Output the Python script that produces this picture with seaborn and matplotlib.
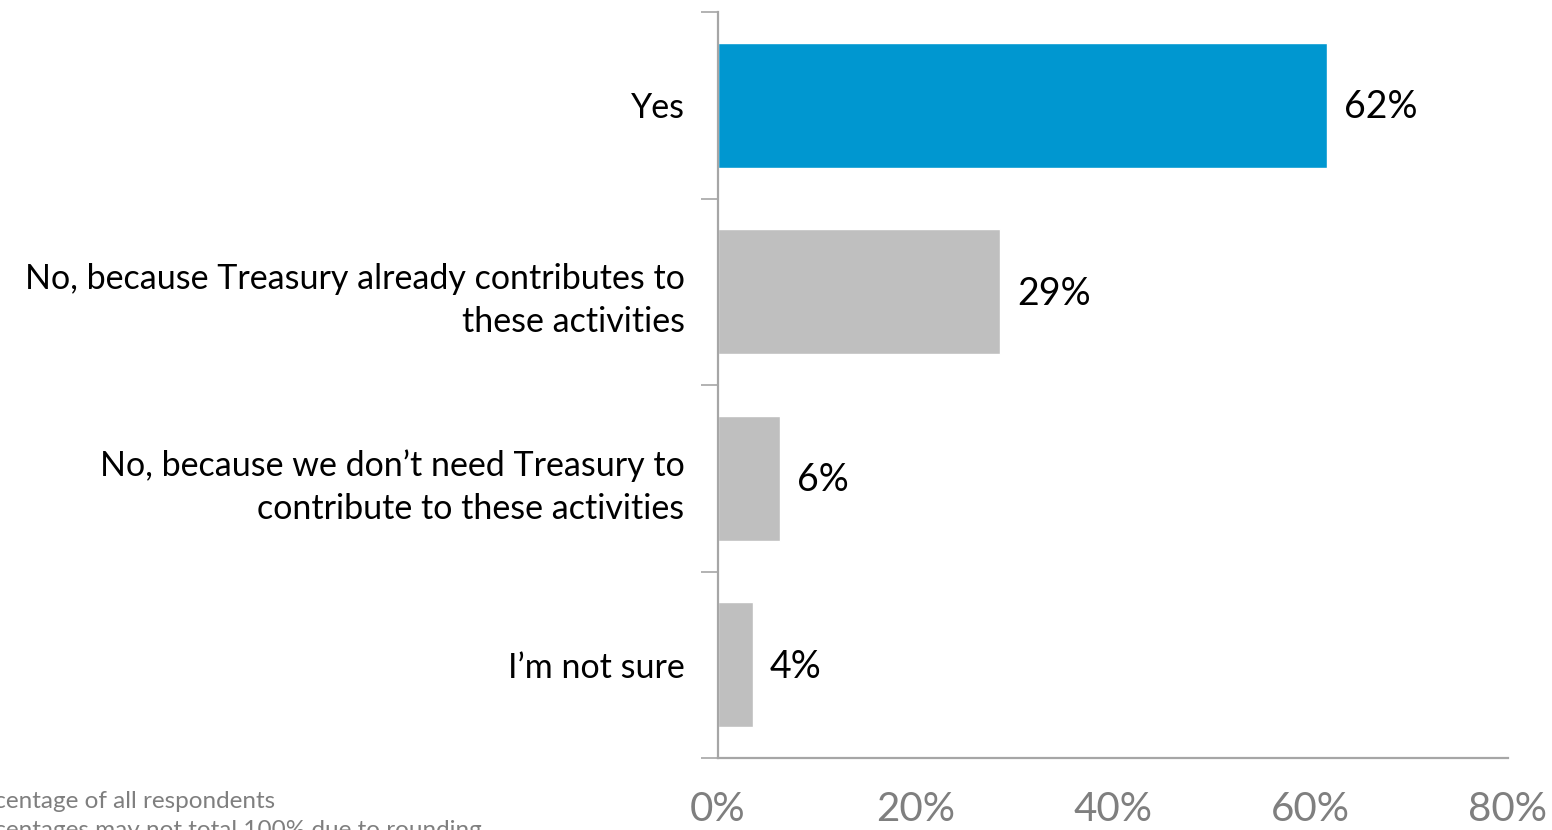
import numpy as np
import pandas as pd
import matplotlib
matplotlib.use('Agg')
import matplotlib.pyplot as plt
import seaborn as sns

categories = ['Yes',
              'No, because Treasury already contributes to\nthese activities',
              'No, because we don\u2019t need Treasury to\ncontribute to these activities',
              'I\u2019m not sure']
values = [61.7, 28.6, 6.3, 3.5]
value_labels = ['62%', '29%', '6%', '4%']
colors = ['#0097D0', '#BFBFBF', '#BFBFBF', '#BFBFBF']
xticks = [0, 20, 40, 60, 80]
xtick_labels = ['0%', '20%', '40%', '60%', '80%']
notes = ['Percentage of all respondents', 'Percentages may not total 100% due to rounding']

sns.set_style('white')
plt.rcParams['font.family'] = ['Lato', 'DejaVu Sans']

df = pd.DataFrame({'cat': categories, 'val': values})

fig = plt.figure(figsize=(15.52, 8.3), dpi=100)
ax = fig.add_axes([0.4626, 0.0867, 0.509, 0.8988])
sns.barplot(data=df, x='val', y='cat', hue='cat', palette=colors, legend=False,
            width=0.67, saturation=1, ax=ax, orient='h')

ax.set_xlim(0, 80)
ax.set_ylim(3.5, -0.5)
ax.set_xlabel('')
ax.set_ylabel('')

# value labels
for i, (v, lab) in enumerate(zip(values, value_labels)):
    ax.text(v + 1.7, i + 0.01, lab, va='center', ha='left', fontsize=27, color='black')

# x axis
ax.set_xticks(xticks)
ax.set_xticklabels(xtick_labels, fontsize=29, color='#7F7F7F')
ax.tick_params(axis='x', length=13, width=1.2, color='#A6A6A6', pad=11, direction='out')

# y axis: labels at centers, tick marks at boundaries
ax.set_yticks(range(len(categories)))
ax.set_yticklabels(categories, fontsize=24.5, color='black', linespacing=1.45)
ax.tick_params(axis='y', which='major', length=0, pad=24)
ax.set_yticks(np.arange(-0.5, len(categories), 1), minor=True)
ax.tick_params(axis='y', which='minor', length=12, width=1.2, color='#A6A6A6', left=True)

for side in ['top', 'right']:
    ax.spines[side].set_visible(False)
for side in ['left', 'bottom']:
    ax.spines[side].set_color('#A6A6A6')
    ax.spines[side].set_linewidth(1.6)

fig.text(-0.027, 0.0265, notes[0], fontsize=17.5, color='#7F7F7F', ha='left', va='baseline')
fig.text(-0.027, -0.008, notes[1], fontsize=17.5, color='#7F7F7F', ha='left', va='baseline')

fig.savefig('out.png', dpi=100)
